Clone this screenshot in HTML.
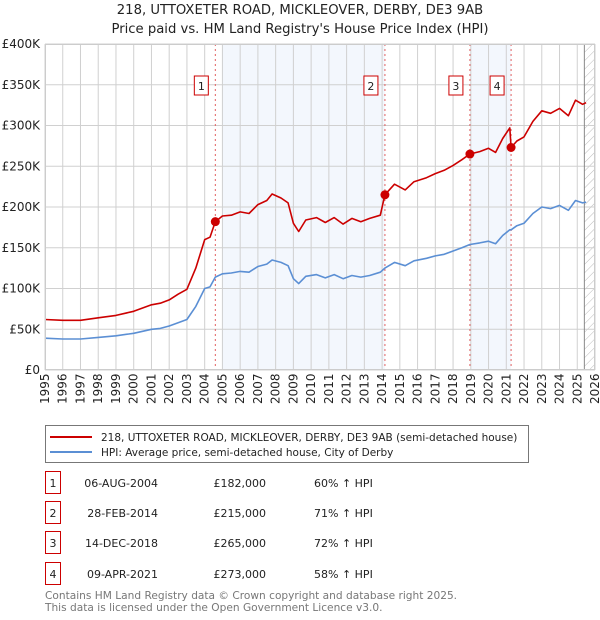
<!DOCTYPE html>
<html><head><meta charset="utf-8">
<style>
body{margin:0;background:#fff;font-family:"DejaVu Sans","Liberation Sans",sans-serif;}
svg{display:block}
</style></head>
<body>
<svg id="chart" width="600" height="620" xmlns="http://www.w3.org/2000/svg" font-family="DejaVu Sans, Liberation Sans, sans-serif">
<text x="300" y="14" text-anchor="middle" font-size="13.2" fill="#222">218, UTTOXETER ROAD, MICKLEOVER, DERBY, DE3 9AB</text>
<text x="300" y="33" text-anchor="middle" font-size="13.2" fill="#222">Price paid vs. HM Land Registry's House Price Index (HPI)</text>
<defs><pattern id="hatch" width="6" height="6" patternUnits="userSpaceOnUse" patternTransform="rotate(45)"><line x1="0" y1="0" x2="0" y2="6" stroke="#bbb" stroke-width="1"/></pattern></defs>
<g id="plot"></g>
<g>
<rect x="45.5" y="425.5" width="483" height="37" fill="#fff" stroke="#777"/>
<line x1="50" y1="437" x2="92" y2="437" stroke="#cc0000" stroke-width="2"/>
<text x="101" y="441" font-size="10.5" fill="#222">218, UTTOXETER ROAD, MICKLEOVER, DERBY, DE3 9AB (semi-detached house)</text>
<line x1="50" y1="452" x2="92" y2="452" stroke="#5b8fd4" stroke-width="2"/>
<text x="101" y="456" font-size="10.5" fill="#222">HPI: Average price, semi-detached house, City of Derby</text>
</g>
<g id="table" font-size="11" fill="#222"></g>
<text x="45" y="599" font-size="10.6" fill="#777">Contains HM Land Registry data © Crown copyright and database right 2025.</text>
<text x="45" y="611" font-size="10.6" fill="#777">This data is licensed under the Open Government Licence v3.0.</text>
</svg>
<script>
const dates=[1995.0,1996.0,1997.0,1998.0,1999.0,2000.0,2001.0,2001.5,2002.0,2002.5,2003.0,2003.5,2004.0,2004.3,2004.6,2005.0,2005.5,2006.0,2006.5,2007.0,2007.5,2007.8,2008.3,2008.7,2009.0,2009.3,2009.7,2010.3,2010.8,2011.3,2011.8,2012.3,2012.8,2013.3,2013.9,2014.16,2014.7,2015.3,2015.8,2016.5,2017.0,2017.5,2018.0,2018.5,2018.95,2019.5,2020.0,2020.4,2020.8,2021.2,2021.27,2021.6,2022.0,2022.5,2023.0,2023.5,2024.0,2024.5,2024.9,2025.3,2025.5];
const hpi=[39,38,38,40,42,45,50,51,54,58,62,78,100,102,114,118,119,121,120,127,130,135,132,128,112,106,115,117,113,117,112,116,114,116,120,125,132,128,134,137,140,142,146,150,154,156,158,155,165,172,172,177,180,192,200,198,202,196,208,205,206];
const red=[62,61,61,64,67,72,80,82,86,93,99,125,160,163,182,189,190,194,192,203,208,216,211,205,180,170,184,187,181,187,179,186,182,186,190,215,228,221,231,236,241,245,251,258,265,268,272,267,284,297,273,281,286,305,318,315,321,312,331,326,328];
const saleDates=[2004.6,2014.16,2018.95,2021.27];
const salePrices=[182,215,265,273];
const saleLabels=["1","2","3","4"];
const saleDateText=["06-AUG-2004","28-FEB-2014","14-DEC-2018","09-APR-2021"];
const salePriceText=["£182,000","£215,000","£265,000","£273,000"];
const saleHpiText=["60% ↑ HPI","71% ↑ HPI","72% ↑ HPI","58% ↑ HPI"];
const yTicks=[0,50,100,150,200,250,300,350,400];
const yTickLabels=["£0","£50K","£100K","£150K","£200K","£250K","£300K","£350K","£400K"];
const years=[1995,1996,1997,1998,1999,2000,2001,2002,2003,2004,2005,2006,2007,2008,2009,2010,2011,2012,2013,2014,2015,2016,2017,2018,2019,2020,2021,2022,2023,2024,2025,2026];

const X0=45,X1=595,Y0=370,Y1=44;
const xs=t=>X0+(t-1995)/(2026-1995)*(X1-X0);
const ys=v=>Y0-v/400*(Y0-Y1);
const NS="http://www.w3.org/2000/svg";
const plot=document.getElementById('plot');
function mk(tag,attrs,parent){const e=document.createElementNS(NS,tag);for(const k in attrs)e.setAttribute(k,attrs[k]);(parent||plot).appendChild(e);return e;}

for(let i=0;i+1<saleDates.length;i+=2){
  const r=mk('rect',{x:xs(Math.ceil(saleDates[i])),y:Y1,width:xs(saleDates[i+1])-xs(Math.ceil(saleDates[i])),height:Y0-Y1,fill:'#eef3fc',opacity:0.7});
  
  
}
const hr=mk('rect',{x:xs(2025.4),y:Y1,width:X1-xs(2025.4),height:Y0-Y1,fill:'url(#hatch)'});


years.forEach(yr=>{mk('line',{x1:xs(yr),y1:Y1,x2:xs(yr),y2:Y0,stroke:'#d0d0d0','stroke-width':1});});
yTicks.forEach((v,i)=>{
  mk('line',{x1:X0,y1:ys(v),x2:X1,y2:ys(v),stroke:'#d0d0d0','stroke-width':1});
  const t=mk('text',{x:40,y:ys(v)+4,'text-anchor':'end','font-size':12,fill:'#222'});
  t.textContent=yTickLabels[i];
  
  
});
mk('line',{x1:xs(2025.4),y1:Y1,x2:xs(2025.4),y2:Y0,stroke:'#888','stroke-width':1});
years.forEach(yr=>{
  const t=mk('text',{transform:`translate(${xs(yr)+4},${Y0+34}) rotate(-90)`,'font-size':12,fill:'#222'});
  t.textContent=yr;
  
  
});
saleDates.forEach((d,i)=>{
  const l=mk('line',{x1:xs(d),y1:Y1,x2:xs(d),y2:Y0,stroke:'#e06060','stroke-width':1,'stroke-dasharray':'2,3'});
  
  
  const g=mk('g',{});
  
  
  mk('rect',{x:xs(d)-21,y:76,width:14,height:19,fill:'#fff',stroke:'#cc0000'},g);
  const t=mk('text',{x:xs(d)-14,y:90,'text-anchor':'middle','font-size':11,fill:'#222'},g);
  t.textContent=saleLabels[i];
});
function line(vals,color,name){
  const p=mk('path',{d:vals.map((v,i)=>(i?'L':'M')+xs(dates[i]).toFixed(1)+','+ys(v).toFixed(1)).join(''),fill:'none',stroke:color,'stroke-width':1.6,'stroke-linejoin':'round'});
  
  
}
line(hpi,'#5b8fd4','hpi-line');
line(red,'#cc0000','property-price-line');
saleDates.forEach((d,i)=>{
  const c=mk('circle',{cx:xs(d),cy:ys(salePrices[i]),r:4.5,fill:'#cc0000'});
  
  
});
mk('rect',{x:X0+0.5,y:Y1+0.5,width:X1-X0-1,height:Y0-Y1-1,fill:'none',stroke:'#ccc'});
const tb=document.getElementById('table');
const rowY=[483,513,543,574];
saleLabels.forEach((s,i)=>{
  const g=mk('g',{},tb);
  
  
  mk('rect',{x:45.5,y:rowY[i]-11.5,width:15,height:22,fill:'#fff',stroke:'#cc0000'},g);
  let t=mk('text',{x:53,y:rowY[i]+4,'text-anchor':'middle'},g);t.textContent=s;
  t=mk('text',{x:158,y:rowY[i]+4,'text-anchor':'end'},g);t.textContent=saleDateText[i];
  t=mk('text',{x:266,y:rowY[i]+4,'text-anchor':'end'},g);t.textContent=salePriceText[i];
  t=mk('text',{x:314,y:rowY[i]+4},g);t.textContent=saleHpiText[i];
});
</script>
</body></html>
